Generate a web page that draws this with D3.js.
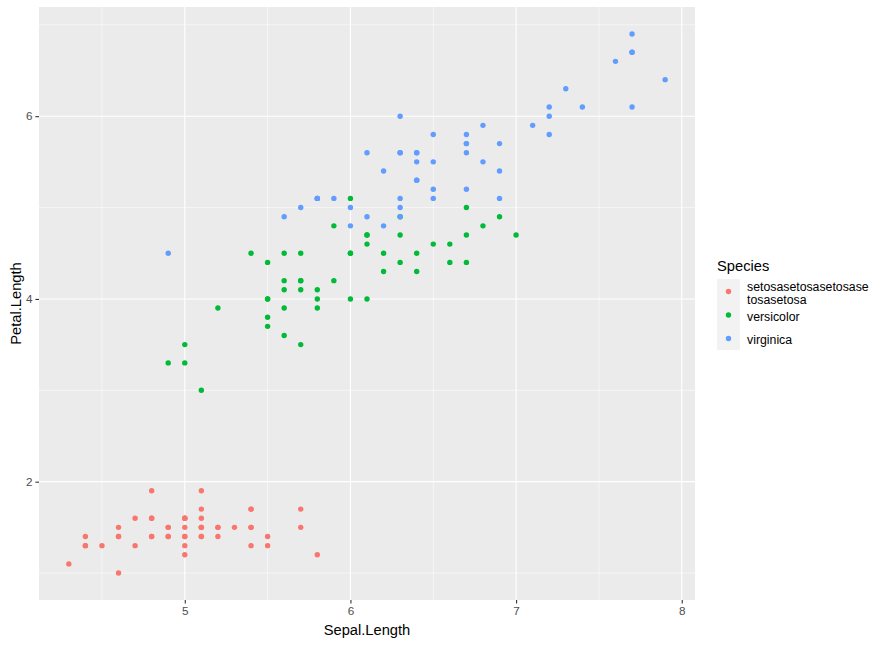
<!DOCTYPE html>
<html>
<head>
<meta charset="utf-8">
<script src="https://cdn.jsdelivr.net/npm/d3@7"></script>
<style>
  body { margin: 0; background: #fff; }
  svg { font-family: "Liberation Sans", Arial, sans-serif; }
</style>
</head>
<body>
<svg id="chart" width="890" height="645"></svg>
<script>
// iris: Sepal.Length / Petal.Length by species
const species = ['setosa', 'versicolor', 'virginica'];
const legendLabels = [['setosasetosasetosase', 'tosasetosa'], ['versicolor'], ['virginica']];
const colors = ['#F8766D', '#00BA38', '#619CFF'];

const setosaSepal = [5.1,4.9,4.7,4.6,5.0,5.4,4.6,5.0,4.4,4.9,5.4,4.8,4.8,4.3,5.8,5.7,5.4,5.1,5.7,5.1,5.4,5.1,4.6,5.1,4.8,5.0,5.0,5.2,5.2,4.7,4.8,5.4,5.2,5.5,4.9,5.0,5.5,4.9,4.4,5.1,5.0,4.5,4.4,5.0,5.1,4.8,5.1,4.6,5.3,5.0];
const setosaPetal = [1.4,1.4,1.3,1.5,1.4,1.7,1.4,1.5,1.4,1.5,1.5,1.6,1.4,1.1,1.2,1.5,1.3,1.4,1.7,1.5,1.7,1.5,1.0,1.7,1.9,1.6,1.6,1.5,1.4,1.6,1.6,1.5,1.5,1.4,1.5,1.2,1.3,1.4,1.3,1.5,1.3,1.3,1.3,1.6,1.9,1.4,1.6,1.4,1.5,1.4];
const versicolorSepal = [7.0,6.4,6.9,5.5,6.5,5.7,6.3,4.9,6.6,5.2,5.0,5.9,6.0,6.1,5.6,6.7,5.6,5.8,6.2,5.6,5.9,6.1,6.3,6.1,6.4,6.6,6.8,6.7,6.0,5.7,5.5,5.5,5.8,6.0,5.4,6.0,6.7,6.3,5.6,5.5,5.5,6.1,5.8,5.0,5.6,5.7,5.7,6.2,5.1,5.7];
const versicolorPetal = [4.7,4.5,4.9,4.0,4.6,4.5,4.7,3.3,4.6,3.9,3.5,4.2,4.0,4.7,3.6,4.4,4.5,4.1,4.5,3.9,4.8,4.0,4.9,4.7,4.3,4.4,4.8,5.0,4.5,3.5,3.8,3.7,3.9,5.1,4.5,4.5,4.7,4.4,4.1,4.0,4.4,4.6,4.0,3.3,4.2,4.2,4.2,4.3,3.0,4.1];
const virginicaSepal = [6.3,5.8,7.1,6.3,6.5,7.6,4.9,7.3,6.7,7.2,6.5,6.4,6.8,5.7,5.8,6.4,6.5,7.7,7.7,6.0,6.9,5.6,7.7,6.3,6.7,7.2,6.2,6.1,6.4,7.2,7.4,7.9,6.4,6.3,6.1,7.7,6.3,6.4,6.0,6.9,6.7,6.9,5.8,6.8,6.7,6.7,6.3,6.5,6.2,5.9];
const virginicaPetal = [6.0,5.1,5.9,5.6,5.8,6.6,4.5,6.3,5.8,6.1,5.1,5.3,5.5,5.0,5.1,5.3,5.5,6.7,6.9,5.0,5.7,4.9,6.7,4.9,5.7,6.0,4.8,4.9,5.6,5.8,6.1,6.4,5.6,5.1,5.6,6.1,5.6,5.5,4.8,5.4,5.6,5.1,5.1,5.9,5.7,5.2,5.0,5.2,5.4,5.1];

const xTicks = [5, 6, 7, 8];
const yTicks = [2, 4, 6];
const xMinor = [4.5, 5.5, 6.5, 7.5];
const yMinor = [1, 3, 5, 7];

const sepal = [setosaSepal, versicolorSepal, virginicaSepal];
const petal = [setosaPetal, versicolorPetal, virginicaPetal];
const points = [];
species.forEach((s, i) => {
    sepal[i].forEach((v, j) => points.push({ x: v, y: petal[i][j], s: i }));
});

const svg = d3.select('#chart');
const panel = { left: 39, right: 695, top: 7, bottom: 600 };

// ggplot-style 5% expansion
const xExt = d3.extent(points, d => d.x);
const yExt = d3.extent(points, d => d.y);
const xPad = (xExt[1] - xExt[0]) * 0.05;
const yPad = (yExt[1] - yExt[0]) * 0.05;
const x = d3.scaleLinear().domain([xExt[0] - xPad, xExt[1] + xPad]).range([panel.left, panel.right]);
const y = d3.scaleLinear().domain([yExt[0] - yPad, yExt[1] + yPad]).range([panel.bottom, panel.top]);

svg.append('rect')
    .attr('x', panel.left).attr('y', panel.top)
    .attr('width', panel.right - panel.left).attr('height', panel.bottom - panel.top)
    .attr('fill', '#EBEBEB');

const grid = svg.append('g');
grid.selectAll('.xminor').data(xMinor).enter().append('line')
    .attr('x1', d => x(d)).attr('x2', d => x(d))
    .attr('y1', panel.top).attr('y2', panel.bottom)
    .attr('stroke', '#fff').attr('stroke-width', 0.55);
grid.selectAll('.yminor').data(yMinor).enter().append('line')
    .attr('y1', d => y(d)).attr('y2', d => y(d))
    .attr('x1', panel.left).attr('x2', panel.right)
    .attr('stroke', '#fff').attr('stroke-width', 0.55);
grid.selectAll('.xmajor').data(xTicks).enter().append('line')
    .attr('x1', d => x(d)).attr('x2', d => x(d))
    .attr('y1', panel.top).attr('y2', panel.bottom)
    .attr('stroke', '#fff').attr('stroke-width', 1.1);
grid.selectAll('.ymajor').data(yTicks).enter().append('line')
    .attr('y1', d => y(d)).attr('y2', d => y(d))
    .attr('x1', panel.left).attr('x2', panel.right)
    .attr('stroke', '#fff').attr('stroke-width', 1.1);

// axes
const xAxis = svg.append('g')
    .attr('transform', `translate(0,${panel.bottom})`)
    .call(d3.axisBottom(x).tickValues(xTicks).tickSize(3.6).tickPadding(3).tickFormat(d3.format('d')));
const yAxis = svg.append('g')
    .attr('transform', `translate(${panel.left},0)`)
    .call(d3.axisLeft(y).tickValues(yTicks).tickSize(3.6).tickPadding(3).tickFormat(d3.format('d')));
[xAxis, yAxis].forEach(a => {
    a.select('.domain').remove();
    a.selectAll('.tick line').attr('stroke', '#333333').attr('stroke-width', 1.1);
    a.selectAll('.tick text').attr('fill', '#4D4D4D')
        .style('font-size', '11.7px').style('font-family', '"Liberation Sans", Arial, sans-serif');
});

// points
svg.append('g').selectAll('circle').data(points).enter().append('circle')
    .attr('cx', d => x(d.x)).attr('cy', d => y(d.y))
    .attr('r', 2.7)
    .attr('fill', d => colors[d.s]);

// axis titles
svg.append('text')
    .attr('x', (panel.left + panel.right) / 2).attr('y', 635)
    .attr('text-anchor', 'middle')
    .style('font-size', '14.7px')
    .text('Sepal.Length');
svg.append('text')
    .attr('transform', `translate(21,${(panel.top + panel.bottom) / 2}) rotate(-90)`)
    .attr('text-anchor', 'middle')
    .style('font-size', '14.7px')
    .text('Petal.Length');

// legend
const legend = svg.append('g');
legend.append('text')
    .attr('x', 717).attr('y', 271)
    .style('font-size', '14.7px')
    .text('Species');
const keyY = [291.5, 315, 338.5];
const keyBox = [[279, 304], [304, 327], [327, 350]];
species.forEach((s, i) => {
    legend.append('rect')
        .attr('x', 717).attr('y', keyBox[i][0])
        .attr('width', 23).attr('height', keyBox[i][1] - keyBox[i][0])
        .attr('fill', '#F2F2F2');
    legend.append('circle')
        .attr('cx', 728.5).attr('cy', keyY[i]).attr('r', 2.7)
        .attr('fill', colors[i]);
    const lines = legendLabels[i];
    const t = legend.append('text')
        .attr('x', 747)
        .style('font-size', '12.3px');
    lines.forEach((ln, k) => {
        const cy = lines.length > 1 ? 286.8 + k * 12.8 : keyY[i] + 1.5;
        t.append('tspan').attr('x', 747).attr('y', cy + 4.4).text(ln);
    });
});
</script>
</body>
</html>
